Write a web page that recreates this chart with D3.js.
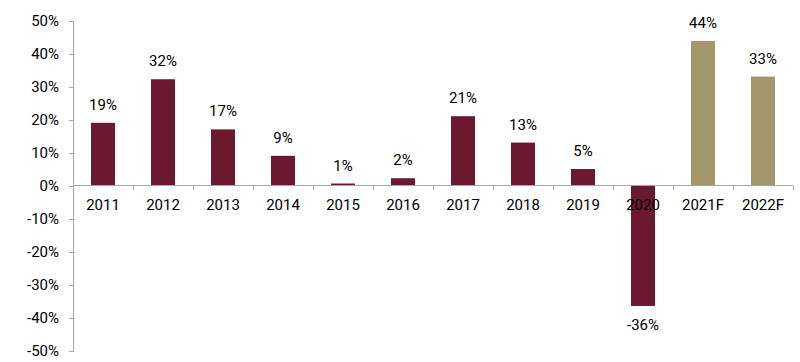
<!DOCTYPE html>
<html lang="en">
<head>
    <meta charset="UTF-8">
    <title>Growth chart</title>
    <style>
        body { margin: 0; background: #fff; }
        .axis path, .axis line { stroke: #a6a6a6; fill: none; shape-rendering: crispEdges; }
        .axis text, .value-label { font-family: Roboto, sans-serif; font-size: 15px; font-weight: 400; fill: #000; }
    </style>
</head>
<body>
    <div id='chart'></div>

    <script src='https://cdnjs.cloudflare.com/ajax/libs/d3/7.8.5/d3.min.js'></script>
    <script type='text/javascript'>
        // data
        const years = ['2011', '2012', '2013', '2014', '2015', '2016', '2017', '2018', '2019', '2020', '2021F', '2022F'];
        const growth = [19, 32.2, 17, 9, 0.6, 2.2, 21, 13, 5, -36.5, 43.8, 33];
        const labels = ['19%', '32%', '17%', '9%', '1%', '2%', '21%', '13%', '5%', '-36%', '44%', '33%'];
        const forecast = [false, false, false, false, false, false, false, false, false, false, true, true];
        const yTicks = [-50, -40, -30, -20, -10, 0, 10, 20, 30, 40, 50];

        const width = 800, height = 362;
        const plotLeft = 73, plotRight = 793, plotTop = 20.5, plotBottom = 350.5;

        const data = years.map((y, i) => ({ year: y, value: growth[i], label: labels[i], forecast: forecast[i] }));

        let svg = d3.select('#chart')
                    .append('svg')
                      .attr('width', width)
                      .attr('height', height);

        let xScale = d3.scaleBand().domain(years).range([plotLeft, plotRight]).paddingInner(0.6).paddingOuter(0.3);
        let yScale = d3.scaleLinear().domain([-50, 50]).range([plotBottom, plotTop]);

        // bars
        svg.selectAll('rect.bar')
            .data(data)
            .enter()
          .append('rect')
            .attr('class', 'bar')
            .attr('x', d => xScale(d.year))
            .attr('width', xScale.bandwidth())
            .attr('y', d => yScale(Math.max(0, d.value)))
            .attr('height', d => Math.abs(yScale(d.value) - yScale(0)))
            .attr('fill', d => d.forecast ? '#a39769' : '#6b1830');

        // y axis
        svg.append('g')
            .attr('class', 'axis y-axis')
            .attr('transform', `translate(${plotLeft}, 0)`)
            .call(d3.axisLeft(yScale).tickValues(yTicks).tickSize(4).tickSizeOuter(4).tickPadding(10)
                    .tickFormat(d => d + '%'))
            .selectAll('text')
              .attr('dy', '0.36em');

        // x axis at zero, ticks on band boundaries
        let xAxis = svg.append('g')
            .attr('class', 'axis x-axis')
            .attr('transform', `translate(0, ${yScale(0)})`);

        xAxis.append('line')
            .attr('x1', plotLeft).attr('x2', plotRight);

        let step = xScale.step();
        xAxis.selectAll('line.tick-mark')
            .data(d3.range(1, years.length + 1))
            .enter()
          .append('line')
            .attr('class', 'tick-mark')
            .attr('x1', i => plotLeft + i * step)
            .attr('x2', i => plotLeft + i * step)
            .attr('y1', 0)
            .attr('y2', 4);

        xAxis.selectAll('text')
            .data(years)
            .enter()
          .append('text')
            .attr('x', d => xScale(d) + xScale.bandwidth() / 2)
            .attr('y', 24)
            .attr('text-anchor', 'middle')
            .text(d => d);

        // value labels
        svg.selectAll('text.value-label')
            .data(data)
            .enter()
          .append('text')
            .attr('class', 'value-label')
            .attr('x', d => xScale(d.year) + xScale.bandwidth() / 2)
            .attr('y', d => d.value >= 0 ? yScale(d.value) - 13 : yScale(d.value) + 24)
            .attr('text-anchor', 'middle')
            .text(d => d.label);
    </script>
</body>
</html>
